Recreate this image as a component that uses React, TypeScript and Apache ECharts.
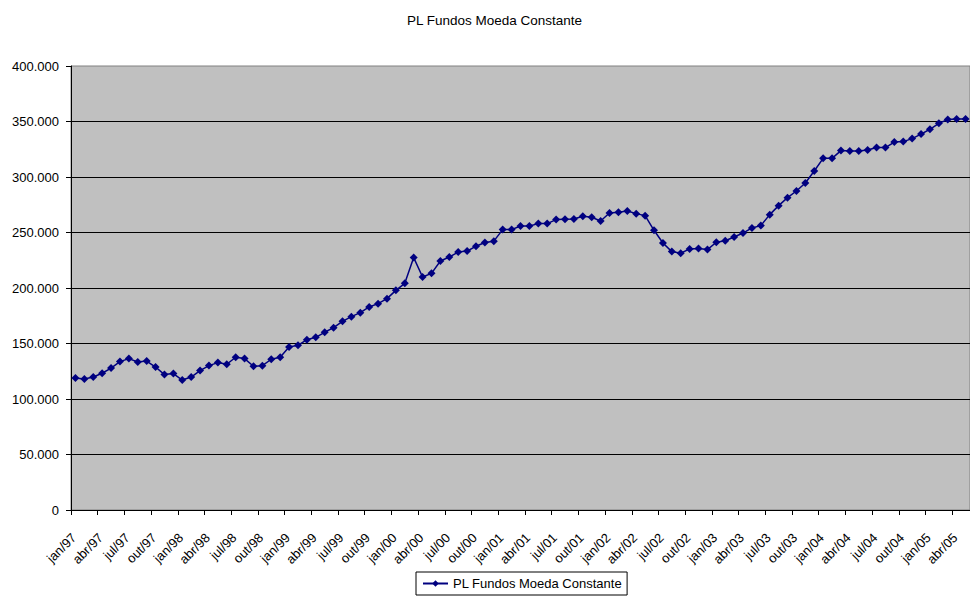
import React, { useEffect, useRef } from "react";
import * as echarts from "echarts";

const monthNames = ["jan", "fev", "mar", "abr", "mai", "jun", "jul", "ago", "set", "out", "nov", "dez"];
const years = ["97", "98", "99", "00", "01", "02", "03", "04", "05"];
const monthCount = 101; // jan/97 .. mai/05

const categories: string[] = [];
for (const y of years) {
  for (const m of monthNames) {
    if (categories.length < monthCount) categories.push(`${m}/${y}`);
  }
}

const seriesName = "PL Fundos Moeda Constante";

const values1997 = [118900, 118000, 119800, 123200, 127900, 133700, 136400, 133300, 134200, 128800, 122000, 122900];
const values1998 = [117100, 119800, 125600, 130100, 132800, 131300, 137600, 136400, 129500, 130000, 135800, 137700];
const values1999 = [146900, 148400, 153400, 155600, 160100, 164300, 170000, 174200, 177800, 182900, 185900, 190400];
const values2000 = [197900, 204200, 227400, 209900, 213200, 224300, 227900, 232400, 233300, 237600, 241000, 242200];
const values2001 = [252600, 252600, 255900, 255900, 258000, 258000, 261600, 261900, 262200, 264600, 263700, 260400];
const values2002 = [267600, 268200, 269400, 267000, 265200, 252000, 240500, 232800, 231300, 235200, 235500, 234600];
const values2003 = [241200, 242600, 245900, 249500, 254100, 256200, 266100, 274200, 281400, 287400, 294600, 305400];
const values2004 = [316800, 316800, 323800, 323400, 323400, 324300, 326500, 326500, 331500, 331900, 334600, 338700];
const values2005 = [343000, 348400, 351700, 352300, 352300];

const values = [
  ...values1997, ...values1998, ...values1999, ...values2000, ...values2001,
  ...values2002, ...values2003, ...values2004, ...values2005,
];

const yTicks = { min: 0, max: 400000, interval: 50000 };

const FONT = "'Liberation Sans', Arial, Helvetica, sans-serif";

function fmt(v: number): string {
  return String(Math.round(v)).replace(/\B(?=(\d{3})+(?!\d))/g, ".");
}

export default function App() {
  const ref = useRef<HTMLDivElement>(null);
  useEffect(() => {
    if (!ref.current) return;
    const chart = echarts.init(ref.current, undefined, { renderer: "svg" });
    chart.setOption({
      animation: false,
      backgroundColor: "#ffffff",
      textStyle: { fontFamily: FONT },
      title: {
        text: seriesName,
        left: 407,
        top: 13,
        padding: 0,
        textStyle: { fontFamily: FONT, fontSize: 13.5, fontWeight: "normal", color: "#000" },
      },
      legend: {
        data: [seriesName],
        left: 416,
        top: 572,
        padding: [5, 5, 5, 6],
        itemWidth: 25,
        itemHeight: 8,
        itemGap: 5,
        borderColor: "#000",
        borderWidth: 1,
        backgroundColor: "#fff",
        borderRadius: 0,
        textStyle: { fontFamily: FONT, fontSize: 13, color: "#000" },
      },
      grid: {
        left: 71,
        right: -5,
        top: 66,
        bottom: 87,
        show: true,
        backgroundColor: "#C0C0C0",
        borderColor: "#808080",
        borderWidth: 1,
      },
      xAxis: {
        type: "category",
        data: categories,
        boundaryGap: true,
        axisLine: { show: true, lineStyle: { color: "#000", width: 1 } },
        axisTick: { show: true, interval: 2, length: 5, inside: false, lineStyle: { color: "#000" } },
        axisLabel: {
          interval: 2,
          rotate: 45,
          margin: 24,
          padding: [0, 2, 0, 0],
          fontFamily: FONT,
          fontSize: 13,
          color: "#000",
        },
        splitLine: { show: false },
      },
      yAxis: {
        type: "value",
        min: yTicks.min,
        max: yTicks.max,
        interval: yTicks.interval,
        axisLine: { show: true, lineStyle: { color: "#000", width: 1 } },
        axisTick: { show: true, length: 5, inside: false, lineStyle: { color: "#000" } },
        axisLabel: {
          margin: 12,
          fontFamily: FONT,
          fontSize: 13,
          color: "#000",
          formatter: (v: number) => fmt(v),
        },
        splitLine: { show: true, showMaxLine: false, lineStyle: { color: "#000", width: 1 } },
      },
      series: [
        {
          name: seriesName,
          type: "line",
          data: values,
          symbol: "diamond",
          symbolSize: 8,
          showAllSymbol: true,
          itemStyle: { color: "#000080" },
          lineStyle: { color: "#000080", width: 1.5 },
          clip: false,
        },
      ],
    });
    return () => chart.dispose();
  }, []);
  return (
    <div
      ref={ref}
      style={{ position: "fixed", left: 0, top: 0, width: 970, height: 597 }}
    />
  );
}
